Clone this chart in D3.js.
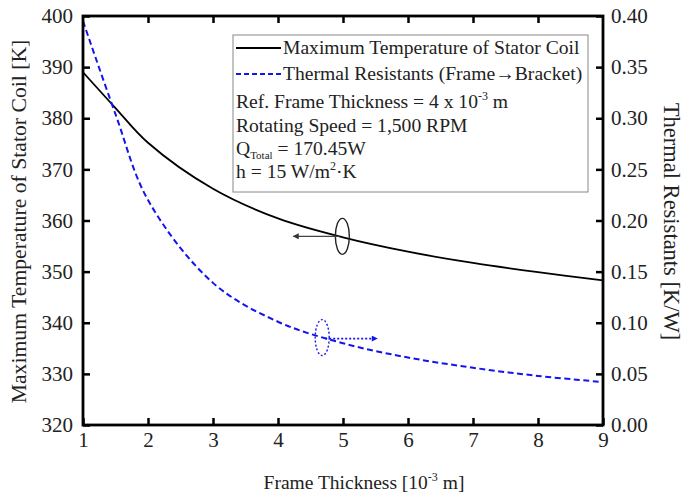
<!DOCTYPE html>
<html>
<head>
<meta charset="utf-8">
<script src="https://cdn.jsdelivr.net/npm/d3@7"></script>
<style>
    body { margin: 0; background: #fff; }
    text { font-family: "Liberation Serif", "Times New Roman", serif; fill: #222; }
</style>
</head>
<body>
<div id="chart"></div>
<script>
// frame thickness [10^-3 m]
const thickness = [1, 1.5, 2, 3, 4, 5, 6, 7, 8, 9];
// maximum temperature of stator coil [K]
const maxTemp = [389.0, 382.0, 375.2, 366.2, 360.4, 356.7, 353.9, 351.7, 349.9, 348.3];
// thermal resistance frame -> bracket [K/W]
const thermalRes = [0.395, 0.304, 0.220, 0.139, 0.101, 0.080, 0.066, 0.056, 0.048, 0.042];

const xTicks = [1, 2, 3, 4, 5, 6, 7, 8, 9];
const leftTicks = [320, 330, 340, 350, 360, 370, 380, 390, 400];
const rightTicks = [0, 0.05, 0.1, 0.15, 0.2, 0.25, 0.3, 0.35, 0.4];

const margin = { top: 16, right: 85, bottom: 73, left: 83 };
const width = 688, height = 498;
const innerW = width - margin.left - margin.right;
const innerH = height - margin.top - margin.bottom;

const svg = d3.select("#chart").append("svg")
    .attr("width", width)
    .attr("height", height);

const g = svg.append("g")
    .attr("transform", `translate(${margin.left}, ${margin.top})`);

const x = d3.scaleLinear().domain([1, 9]).range([0, innerW]);
const yL = d3.scaleLinear().domain([320, 400]).range([innerH, 0]);
const yR = d3.scaleLinear().domain([0, 0.4]).range([innerH, 0]);

// axes with inward ticks
function styleAxis(sel) {
    sel.select(".domain").remove();
    sel.selectAll(".tick line").attr("stroke", "#000").attr("stroke-width", 2.5);
    sel.selectAll(".tick text").style("font-size", "21px").attr("fill", "#222");
}

g.append("g")
    .attr("transform", `translate(0, ${innerH})`)
    .call(d3.axisBottom(x).tickValues(xTicks).tickFormat(d3.format("d"))
        .tickSizeInner(-7).tickSizeOuter(0).tickPadding(7))
    .call(styleAxis);

g.append("g")
    .call(d3.axisTop(x).tickValues(xTicks.slice(1, -1)).tickFormat("")
        .tickSizeInner(-7).tickSizeOuter(0))
    .call(styleAxis);

g.append("g")
    .call(d3.axisLeft(yL).tickValues(leftTicks).tickFormat(d3.format("d"))
        .tickSizeInner(-7).tickSizeOuter(0).tickPadding(10))
    .call(styleAxis);

g.append("g")
    .attr("transform", `translate(${innerW}, 0)`)
    .call(d3.axisRight(yR).tickValues(rightTicks).tickFormat(d3.format(".2f"))
        .tickSizeInner(-7).tickSizeOuter(0).tickPadding(8))
    .call(styleAxis);

// curves
const tempLine = d3.line()
    .x((d, i) => x(thickness[i]))
    .y((d) => yL(d))
    .curve(d3.curveCatmullRom.alpha(0.5));

const resLine = d3.line()
    .x((d, i) => x(thickness[i]))
    .y((d) => yR(d))
    .curve(d3.curveCatmullRom.alpha(0.5));

g.append("path")
    .datum(maxTemp)
    .attr("d", tempLine)
    .attr("fill", "none")
    .attr("stroke", "#000")
    .attr("stroke-width", 1.8);

g.append("path")
    .datum(thermalRes)
    .attr("d", resLine)
    .attr("fill", "none")
    .attr("stroke", "#1414f0")
    .attr("stroke-width", 2)
    .attr("stroke-dasharray", "6,3.5");

// frame
g.append("rect")
    .attr("width", innerW)
    .attr("height", innerH)
    .attr("fill", "none")
    .attr("stroke", "#000")
    .attr("stroke-width", 2.8);

// annotation markers
const defs = svg.append("defs");
[["arrBlack", "#333"], ["arrBlue", "#1414f0"]].forEach(([id, c]) => {
    defs.append("marker")
        .attr("id", id)
        .attr("viewBox", "0 0 10 10")
        .attr("refX", 9).attr("refY", 5)
        .attr("markerWidth", 9).attr("markerHeight", 6)
        .attr("markerUnits", "userSpaceOnUse")
        .attr("orient", "auto")
        .append("path")
        .attr("d", "M0,0L10,5L0,10Z")
        .attr("fill", c);
});

const tA = 4.99, tB = 4.68;
const ax = x(tA), ay = yL(356.9);
g.append("ellipse")
    .attr("cx", ax).attr("cy", ay)
    .attr("rx", 7).attr("ry", 18)
    .attr("fill", "none").attr("stroke", "#222").attr("stroke-width", 1.4);
g.append("line")
    .attr("x1", ax - 3).attr("y1", ay)
    .attr("x2", ax - 49).attr("y2", ay)
    .attr("stroke", "#444").attr("stroke-width", 1.4)
    .attr("marker-end", "url(#arrBlack)");

const bx = x(tB), by = yR(0.0855);
g.append("ellipse")
    .attr("cx", bx).attr("cy", by)
    .attr("rx", 7).attr("ry", 18)
    .attr("fill", "none").attr("stroke", "#1414f0").attr("stroke-width", 1.4)
    .attr("stroke-dasharray", "2,2");
g.append("line")
    .attr("x1", bx + 3).attr("y1", by + 1)
    .attr("x2", bx + 55).attr("y2", by + 1)
    .attr("stroke", "#1414f0").attr("stroke-width", 1.6)
    .attr("stroke-dasharray", "2,2")
    .attr("marker-end", "url(#arrBlue)");

// legend box
const lg = svg.append("g").attr("transform", "translate(233, 35)");
lg.append("rect")
    .attr("width", 355).attr("height", 157)
    .attr("fill", "#fff").attr("stroke", "#888").attr("stroke-width", 1);

const lf = "19.6px";
lg.append("line").attr("x1", 3).attr("x2", 48).attr("y1", 13).attr("y2", 13)
    .attr("stroke", "#000").attr("stroke-width", 1.8);
lg.append("text").attr("x", 50).attr("y", 19).style("font-size", lf)
    .text("Maximum Temperature of Stator Coil");

lg.append("line").attr("x1", 3).attr("x2", 48).attr("y1", 39).attr("y2", 39)
    .attr("stroke", "#1414f0").attr("stroke-width", 1.8).attr("stroke-dasharray", "5,3");
lg.append("text").attr("x", 50).attr("y", 45).style("font-size", lf)
    .text("Thermal Resistants (Frame\u2192Bracket)");

const t3 = lg.append("text").attr("x", 3).attr("y", 73).style("font-size", lf);
t3.append("tspan").text("Ref. Frame Thickness = 4 x 10");
t3.append("tspan").attr("dy", -8).style("font-size", "12px").text("-3");
t3.append("tspan").attr("dy", 8).text(" m");

lg.append("text").attr("x", 3).attr("y", 97).style("font-size", lf)
    .text("Rotating Speed = 1,500 RPM");

const t5 = lg.append("text").attr("x", 3).attr("y", 120).style("font-size", lf);
t5.append("tspan").text("Q");
t5.append("tspan").attr("dy", 4).style("font-size", "11px").text("Total");
t5.append("tspan").attr("dy", -4).text(" = 170.45W");

const t6 = lg.append("text").attr("x", 3).attr("y", 143).style("font-size", lf);
t6.append("tspan").text("h = 15 W/m");
t6.append("tspan").attr("dy", -8).style("font-size", "12px").text("2");
t6.append("tspan").attr("dy", 8).text("\u00b7K");

// axis titles
const xt = svg.append("text")
    .attr("x", 364)
    .attr("y", 489)
    .attr("text-anchor", "middle")
    .style("font-size", "19.5px");
xt.append("tspan").text("Frame Thickness [10");
xt.append("tspan").attr("dy", -8).style("font-size", "12px").text("-3");
xt.append("tspan").attr("dy", 8).text(" m]");

svg.append("text")
    .attr("transform", `translate(26, ${margin.top + innerH / 2 + 1}) rotate(-90)`)
    .attr("text-anchor", "middle")
    .style("font-size", "21.7px")
    .text("Maximum Temperature of Stator Coil [K]");

svg.append("text")
    .attr("transform", `translate(664, ${margin.top + innerH / 2 + 1}) rotate(90)`)
    .attr("text-anchor", "middle")
    .style("font-size", "22.5px")
    .text("Thermal Resistants [K/W]");
</script>
</body>
</html>
